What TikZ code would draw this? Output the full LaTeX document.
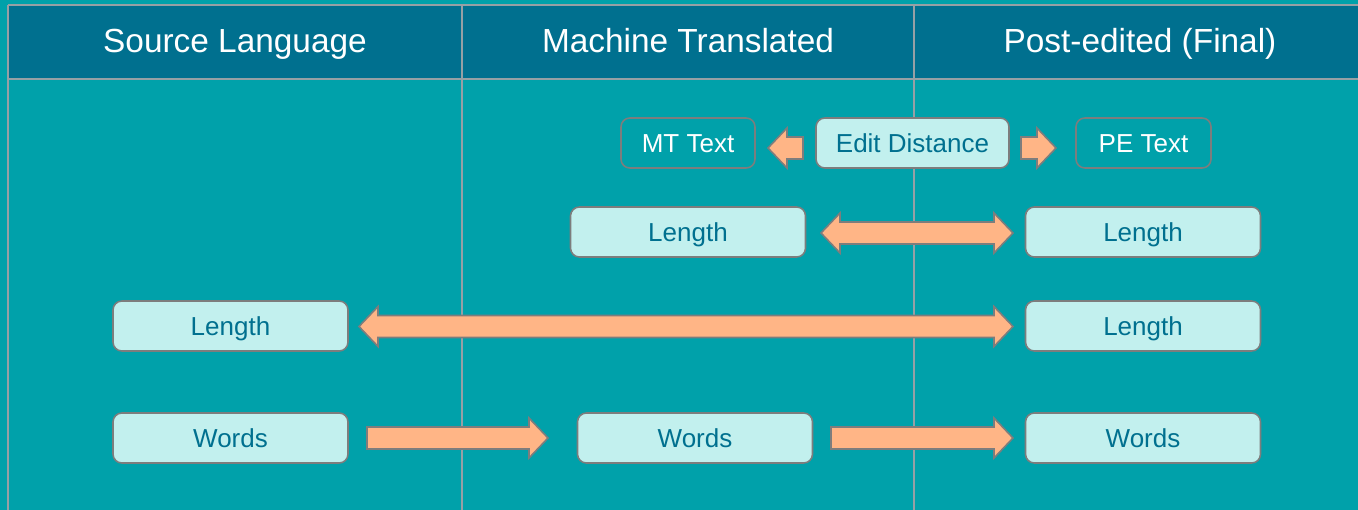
\documentclass[tikz,border=0pt]{standalone}
\usepackage{fontspec}
\setmainfont{Liberation Sans}

\definecolor{bgteal}{RGB}{0,161,170}
\definecolor{headblue}{RGB}{0,112,143}
\definecolor{boxfill}{RGB}{194,240,238}
\definecolor{boxtext}{RGB}{0,112,143}
\definecolor{edgegray}{RGB}{125,125,125}
\definecolor{linegray}{RGB}{150,160,165}
\definecolor{arrowfill}{RGB}{255,181,134}

\tikzset{
  gridline/.style={draw=linegray, line width=1pt},
  headtext/.style={text=white, font=\fontsize{19}{23}\selectfont, anchor=base},
  fullbox/.style={draw=edgegray, line width=0.9pt, rounded corners=5pt, fill=boxfill,
    text=boxtext, font=\fontsize{14.8}{17}\selectfont, minimum height=1cm, inner sep=0pt,
    text height=10.6pt, text depth=0pt},
  emptybox/.style={fullbox, fill=none, text=white},
  blockarrow/.style={draw=edgegray, line width=0.9pt, fill=arrowfill, line join=miter}
}

% block arrows: x from, x to, y centre (pixels)
\newcommand{\blockright}[3]{%
  \draw[blockarrow] (#1,{#3-11}) -- ({#2-19},{#3-11}) -- ({#2-19},{#3-20}) -- (#2,#3)
    -- ({#2-19},{#3+20}) -- ({#2-19},{#3+11}) -- (#1,{#3+11}) -- cycle;}
\newcommand{\blockleft}[3]{%
  \draw[blockarrow] (#2,{#3-11}) -- ({#1+19},{#3-11}) -- ({#1+19},{#3-20}) -- (#1,#3)
    -- ({#1+19},{#3+20}) -- ({#1+19},{#3+11}) -- (#2,{#3+11}) -- cycle;}
\newcommand{\blockboth}[3]{%
  \draw[blockarrow] ({#1+19},{#3-11}) -- ({#2-19},{#3-11}) -- ({#2-19},{#3-20}) -- (#2,#3)
    -- ({#2-19},{#3+20}) -- ({#2-19},{#3+11}) -- ({#1+19},{#3+11}) -- ({#1+19},{#3+20})
    -- (#1,#3) -- ({#1+19},{#3-20}) -- cycle;}

\begin{document}
\begin{tikzpicture}[x=0.02cm, y=-0.02cm]
   \useasboundingbox (0,0) rectangle (1358,510);
   \fill[bgteal] (0,0) rectangle (1358,510);
   % header band and grid
   \fill[headblue] (8,5) rectangle (1358,79);
   \draw[gridline] (8,5) -- (1358,5);
   \draw[gridline] (8,79) -- (1358,79);
   \draw[gridline] (8,5) -- (8,510);
   \draw[gridline] (462,5) -- (462,510);
   \draw[gridline] (914,5) -- (914,510);
   \node[headtext] (hsl) at (235,53) {Source Language};
   \node[headtext] (hmt) at (688,53) {Machine Translated};
   \node[headtext] (hpe) at (1140,53) {Post-edited (Final)};
   % edit distance row
   \node[emptybox, minimum width=2.68cm] (mttext) at (688,143) {MT Text};
   \node[fullbox, minimum width=3.86cm] (edist) at (912.5,143) {Edit Distance};
   \node[emptybox, minimum width=2.7cm] (petext) at (1143.5,143) {PE Text};
   \blockleft{768}{803}{148}
   \blockright{1021}{1056}{148}
   % length rows
   \node[fullbox, minimum width=4.7cm] (lenmt) at (688,232) {Length};
   \node[fullbox, minimum width=4.7cm] (lenpe) at (1143,232) {Length};
   \blockboth{821}{1013}{233}
   \node[fullbox, minimum width=4.7cm] (lensl) at (230.5,326) {Length};
   \node[fullbox, minimum width=4.7cm] (lenpeb) at (1143,326) {Length};
   \blockboth{359}{1013}{326.5}
   % words row
   \node[fullbox, minimum width=4.7cm] (wsl) at (230.5,438) {Words};
   \node[fullbox, minimum width=4.7cm] (wmt) at (695,438) {Words};
   \node[fullbox, minimum width=4.7cm] (wpe) at (1143,438) {Words};
   \blockright{367}{548}{438}
   \blockright{831}{1013}{438}
\end{tikzpicture}
\end{document}
